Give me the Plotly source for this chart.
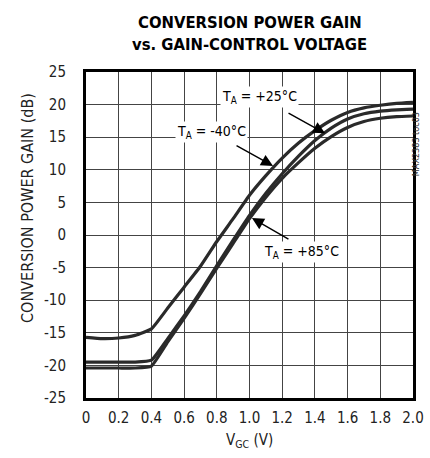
import plotly.graph_objects as go

# gain-control voltage (V)
vgc = [0.0, 0.1, 0.2, 0.3, 0.4, 0.5, 0.6, 0.7, 0.8, 0.9, 1.0,
       1.1, 1.2, 1.3, 1.4, 1.5, 1.6, 1.7, 1.8, 1.9, 2.0]

# conversion power gain (dB) per temperature
gain_m40 = [-15.7, -15.9, -15.8, -15.4, -14.4, -11.2, -8.0, -4.8, -1.0, 2.5, 6.1,
            9.1, 11.8, 14.1, 16.0, 17.6, 18.8, 19.5, 19.9, 20.2, 20.35]
gain_p25 = [-19.5, -19.5, -19.5, -19.5, -19.2, -15.9, -12.4, -8.7, -4.7, -0.8, 3.0,
            6.4, 9.4, 12.1, 14.5, 16.4, 17.8, 18.6, 19.0, 19.2, 19.3]
gain_p85 = [-20.4, -20.4, -20.4, -20.4, -20.1, -16.4, -12.8, -9.0, -5.1, -1.3, 2.5,
            5.8, 8.7, 11.1, 13.3, 15.1, 16.5, 17.4, 17.9, 18.15, 18.25]

x_ticks = [0, 0.2, 0.4, 0.6, 0.8, 1.0, 1.2, 1.4, 1.6, 1.8, 2.0]
x_labels = ["0", "0.2", "0.4", "0.6", "0.8", "1.0", "1.2", "1.4", "1.6", "1.8", "2.0"]
y_ticks = [-25, -20, -15, -10, -5, 0, 5, 10, 15, 20, 25]
y_labels = ["-25", "-20", "-15", "-10", "-5", "0", "5", "10", "15", "20", "25"]

FONT = "DejaVu Sans Condensed, Liberation Sans Narrow, Roboto, sans-serif"

fig = go.Figure()
for g in (gain_m40, gain_p25, gain_p85):
    fig.add_trace(go.Scatter(x=vgc, y=g, mode="lines", showlegend=False, hoverinfo="skip",
                             line=dict(color="#2a2a2a", width=3.2, shape="spline", smoothing=0.4)))

# labels with white boxes, arrows drawn separately
labels = [
    ("T<sub>A</sub> = +25°C", 1.064, 21.2),
    ("T<sub>A</sub> = -40°C", 0.765, 15.8),
    ("T<sub>A</sub> = +85°C", 1.318, -2.6),
]
for txt, x, y in labels:
    fig.add_annotation(x=x, y=y, text=txt, showarrow=False, bgcolor="white",
                       font=dict(family=FONT, size=14, color="black"))

arrows = [(1.462, 15.6, -38, -21), (1.144, 10.6, -38, -21), (1.015, 2.6, 38, 22)]
for x, y, ax, ay in arrows:
    fig.add_annotation(x=x, y=y, ax=ax, ay=ay, text="", showarrow=True,
                       arrowhead=2, arrowsize=1.7, arrowwidth=1.4, arrowcolor="black")

# side code, titles as paper annotations
fig.add_annotation(x=1.0, y=0.883, xref="paper", yref="paper", xshift=10,
                   text="MAX2383 toc03", textangle=-90, showarrow=False,
                   font=dict(family=FONT, size=9, color="#333"))
fig.add_annotation(x=0.5, y=1.0, xref="paper", yref="paper", yanchor="bottom", yshift=38,
                   text="<b>CONVERSION POWER GAIN</b>", showarrow=False,
                   font=dict(family=FONT, size=16.5, color="black"))
fig.add_annotation(x=0.5, y=1.0, xref="paper", yref="paper", yanchor="bottom", yshift=16,
                   text="<b>vs. GAIN-CONTROL VOLTAGE</b>", showarrow=False,
                   font=dict(family=FONT, size=16.5, color="black"))
fig.add_annotation(x=0.5, y=0.0, xref="paper", yref="paper", yanchor="middle", yshift=-42,
                   text="V<sub>GC</sub> (V)", showarrow=False,
                   font=dict(family=FONT, size=15, color="#222"))
fig.add_annotation(x=0.0, y=0.583, xref="paper", yref="paper", xanchor="center", xshift=-58,
                   text="CONVERSION POWER GAIN (dB)", textangle=-90, showarrow=False,
                   font=dict(family=FONT, size=16, color="#222"))

fig.update_layout(
    width=430, height=458,
    margin=dict(l=86, r=17, t=72, b=60, autoexpand=False),
    paper_bgcolor="white", plot_bgcolor="white",
    font=dict(family=FONT, size=15, color="#222"),
    hovermode=False,
)
fig.update_xaxes(range=[0, 2], tickvals=x_ticks, ticktext=x_labels,
                 showgrid=True, gridcolor="#444", gridwidth=1,
                 showline=True, mirror=True, linecolor="black", linewidth=3,
                 ticks="", ticklabelstandoff=4, zeroline=False, automargin=False)
fig.update_yaxes(range=[-25, 25], tickvals=y_ticks, ticktext=y_labels,
                 showgrid=True, gridcolor="#444", gridwidth=1,
                 showline=True, mirror=True, linecolor="black", linewidth=3,
                 ticks="", ticklabelstandoff=14, zeroline=False, automargin=False)

# drop the default page margin so the figure sits at the window origin
fig.write_html("out.html", config={"displayModeBar": False},
               post_script="document.body.style.margin='0';")
